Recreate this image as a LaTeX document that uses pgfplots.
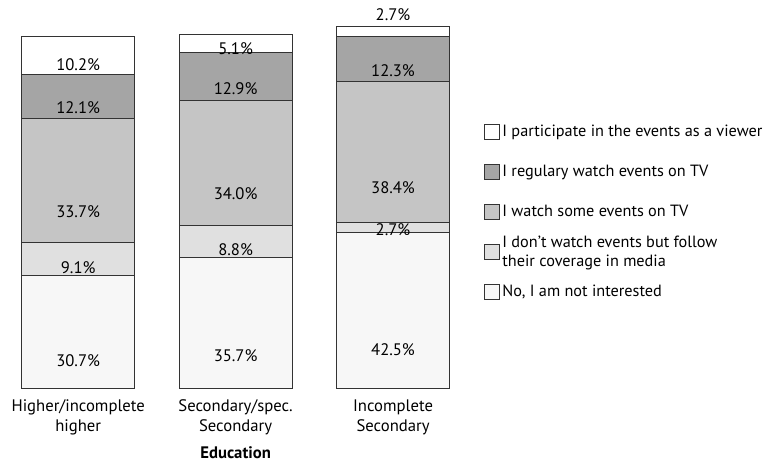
\documentclass[border=0pt]{standalone}
\usepackage{pgfplots}
\pgfplotsset{compat=1.18}
\usepackage{fontspec}
\setmainfont{PT Sans}

\definecolor{cnone}{HTML}{F7F7F7}
\definecolor{cmedia}{HTML}{E0E0E0}
\definecolor{csome}{HTML}{C5C5C5}
\definecolor{cregular}{HTML}{A5A5A5}
\definecolor{cview}{HTML}{FFFFFF}
\definecolor{edge}{HTML}{333333}

\begin{document}
\fontsize{12.5}{15}\selectfont
\begin{tikzpicture}
\begin{axis}[
    scale only axis,
    width=342.4pt, height=275.25pt,
    ybar stacked,
    bar width=84.75pt,
    xmin=-0.45, xmax=2.45,
    ymin=0, ymax=100,
    axis line style={draw=none},
    tick style={draw=none},
    ytick=\empty,
    xtick={0,1,2},
    xticklabels={{Higher/incomplete\\higher},{Secondary/spec.\\Secondary},{Incomplete\\Secondary}},
    xticklabel style={align=center, yshift=-4pt},
    xlabel={\textbf{Education}},
    xlabel style={yshift=0pt},
    every axis plot/.append style={draw=edge, line width=0.75pt},
    visualization depends on={\thisrow{y} \as \rawy},
    nodes near coords={\pgfmathprintnumber[fixed,fixed zerofill,precision=1,assume math mode=true]{\rawy}\%},
    % this shift ends up applied twice, so a quarter gives the segment middle
    every node near coord/.style={anchor=center, text=black,
        yshift={-\rawy*0.688125pt}},
    reverse legend,
    area legend,
    legend image code/.code={\draw[#1, draw=edge, line width=0.75pt] (-1.5pt,-5.6pt) rectangle (9.7pt,5.6pt);},
    legend style={draw=none, fill=none, at={(1,0.48)}, anchor=west, xshift=14.75pt,
        inner sep=0pt, row sep=0pt, cells={anchor=west, align=left},
        nodes={minimum height=30pt},
        font=\fontsize{12.2}{14}\selectfont},
]
\addplot[fill=cnone] table {
x y
0 30.7
1 35.7
2 42.5
};
\addplot[fill=cmedia] table {
x y
0 9.1
1 8.8
2 2.7
};
\addplot[fill=csome] table {
x y
0 33.7
1 34.0
2 38.4
};
\addplot[fill=cregular] table {
x y
0 12.1
1 12.9
2 12.3
};
\addplot[fill=cview,
    visualization depends on={\thisrow{s} \as \shf},
    every node near coord/.append style={yshift={\shf*\rawy*2.7525pt}}]
    table {
x y s
0 10.2 0
1 5.1 0
2 2.7 1.91
};
\legend{{No, I am not interested},
    {I don’t watch events but follow\\their coverage in media},
    {I watch some events on TV},
    {I regulary watch events on TV},
    {I participate in the events as a viewer}}
\end{axis}
\path ([xshift=-4.5pt]current bounding box.west) ([xshift=2.25pt]current bounding box.east)
    ([yshift=2.6pt]current bounding box.north);
\end{tikzpicture}
\end{document}
